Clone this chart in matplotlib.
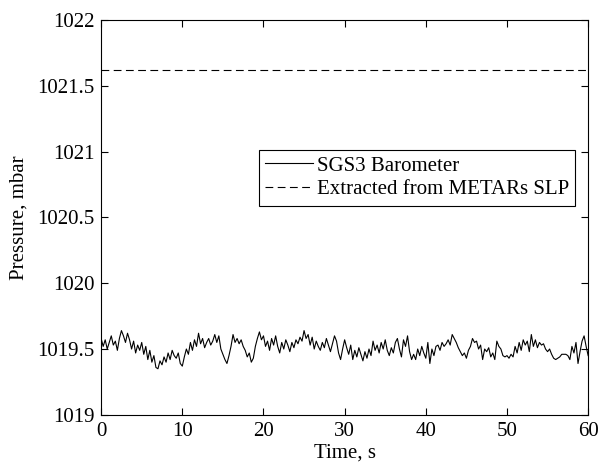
import matplotlib
matplotlib.use("Agg")
import matplotlib.pyplot as plt
import numpy as np

# pressure, one sample every 0.25 s
sample_dt = 0.25
sgs3_pressure = [
    1019.58, 1019.52, 1019.57, 1019.50, 1019.55, 1019.60, 1019.53, 1019.56, 1019.49, 1019.58,
    1019.64, 1019.60, 1019.55, 1019.62, 1019.57, 1019.50, 1019.56, 1019.47, 1019.53, 1019.49,
    1019.55, 1019.46, 1019.52, 1019.42, 1019.49, 1019.40, 1019.45, 1019.36, 1019.35, 1019.41,
    1019.38, 1019.44, 1019.40, 1019.47, 1019.42, 1019.49, 1019.45, 1019.43, 1019.47, 1019.39,
    1019.37, 1019.44, 1019.50, 1019.46, 1019.55, 1019.49, 1019.57, 1019.52, 1019.62, 1019.54,
    1019.58, 1019.51, 1019.55, 1019.58, 1019.53, 1019.56, 1019.61, 1019.55, 1019.60, 1019.50,
    1019.46, 1019.42, 1019.39, 1019.45, 1019.52, 1019.61, 1019.55, 1019.58, 1019.54, 1019.57,
    1019.52, 1019.49, 1019.44, 1019.47, 1019.40, 1019.43, 1019.52, 1019.58, 1019.63, 1019.57,
    1019.60, 1019.52, 1019.56, 1019.49, 1019.58, 1019.53, 1019.60, 1019.52, 1019.47, 1019.55,
    1019.50, 1019.57, 1019.53, 1019.48, 1019.55, 1019.51, 1019.57, 1019.54, 1019.59, 1019.56,
    1019.64, 1019.58, 1019.61, 1019.53, 1019.59, 1019.50, 1019.56, 1019.52, 1019.49, 1019.55,
    1019.51, 1019.58, 1019.53, 1019.48, 1019.54, 1019.60, 1019.56, 1019.47, 1019.42, 1019.50,
    1019.57, 1019.51, 1019.46, 1019.53, 1019.42, 1019.49, 1019.44, 1019.51, 1019.46, 1019.41,
    1019.48, 1019.43, 1019.50, 1019.45, 1019.56, 1019.49, 1019.53, 1019.47, 1019.55, 1019.50,
    1019.57, 1019.49, 1019.45, 1019.51, 1019.47, 1019.55, 1019.58, 1019.50, 1019.44, 1019.57,
    1019.52, 1019.60, 1019.48, 1019.42, 1019.46, 1019.42, 1019.50, 1019.45, 1019.52, 1019.47,
    1019.43, 1019.55, 1019.39, 1019.50, 1019.45, 1019.52, 1019.53, 1019.49, 1019.55, 1019.52,
    1019.54, 1019.57, 1019.53, 1019.61, 1019.58, 1019.55, 1019.51, 1019.48, 1019.45, 1019.47,
    1019.43, 1019.49, 1019.52, 1019.58, 1019.55, 1019.56, 1019.50, 1019.53, 1019.42, 1019.50,
    1019.48, 1019.51, 1019.44, 1019.47, 1019.42, 1019.56, 1019.52, 1019.50, 1019.45, 1019.44,
    1019.45, 1019.43, 1019.46, 1019.44, 1019.52, 1019.47, 1019.55, 1019.49, 1019.57, 1019.53,
    1019.56, 1019.48, 1019.61, 1019.52, 1019.57, 1019.51, 1019.55, 1019.53, 1019.54, 1019.50,
    1019.48, 1019.50, 1019.46, 1019.43, 1019.42, 1019.43, 1019.44, 1019.46, 1019.46, 1019.46,
    1019.45, 1019.42, 1019.52, 1019.47, 1019.55, 1019.39, 1019.48, 1019.56, 1019.60, 1019.52,
    1019.45,
]
metar_slp = 1021.62

x_ticks = [0, 10, 20, 30, 40, 50, 60]
y_ticks = [1019, 1019.5, 1020, 1020.5, 1021, 1021.5, 1022]
y_tick_labels = ["1019", "1019.5", "1020", "1020.5", "1021", "1021.5", "1022"]

time = np.arange(len(sgs3_pressure)) * sample_dt

plt.rcParams["font.family"] = ["Liberation Serif", "DejaVu Serif"]
plt.rcParams["font.size"] = 15

fig = plt.figure(figsize=(6.02, 4.63), dpi=100)
ax = fig.add_axes([0.168, 0.104, 0.809, 0.853])

ax.plot(time, sgs3_pressure, color="black", linewidth=0.8, label="SGS3 Barometer")
ax.plot([time[0], time[-1]], [metar_slp, metar_slp], color="black", linewidth=0.8,
        dashes=(7, 4), label="Extracted from METARs SLP")

ax.set_xlim(0, 60)
ax.set_ylim(1019, 1022)
ax.set_xticks(x_ticks)
ax.set_yticks(y_ticks)
ax.set_yticklabels(y_tick_labels)
ax.tick_params(direction="in", top=True, right=True, length=5, width=0.8, pad=5)
for s in ax.spines.values():
    s.set_linewidth(0.8)

ax.set_xlabel("Time, s", labelpad=2)
ax.set_ylabel("Pressure, mbar", labelpad=6)

leg = ax.legend(loc="upper right", bbox_to_anchor=(0.973, 0.671), fancybox=False,
                edgecolor="black", framealpha=1, handlelength=2.3, handletextpad=0.15,
                borderpad=0.3, borderaxespad=0, labelspacing=0.2)
leg.get_frame().set_linewidth(0.8)

plt.savefig("out.png", dpi=100)
